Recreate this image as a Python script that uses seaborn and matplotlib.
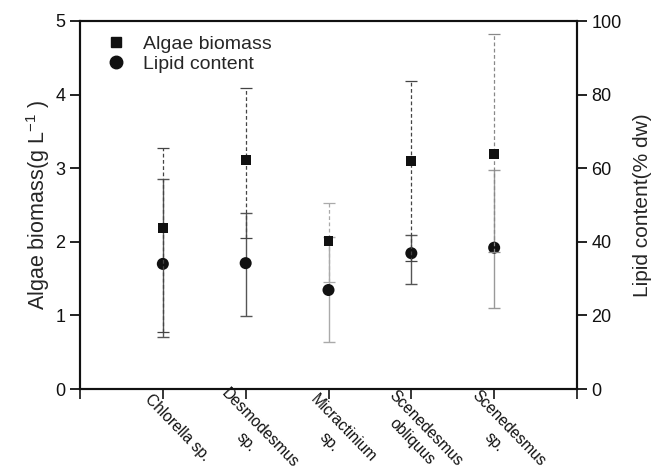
import matplotlib
matplotlib.use("Agg")
import matplotlib.pyplot as plt
import matplotlib.lines as mlines
import matplotlib.transforms as mtransforms
import seaborn as sns
import numpy as np
import pandas as pd

# Valores
species = ["Chlorella sp.", "Desmodesmus\nsp.", "Micractinium\nsp.",
           "Scenedesmus\nobliquus", "Scenedesmus\nsp."]
biomass = [2.19, 3.11, 2.01, 3.10, 3.19]
biomass_hi = [3.27, 4.09, 2.53, 4.19, 4.83]
biomass_lo = [0.77, 2.05, 1.45, 1.74, 1.86]
lipid = [34.0, 34.2, 26.9, 36.9, 38.4]
lipid_hi = [57.2, 47.8, 41.3, 41.8, 59.6]
lipid_lo = [14.0, 19.8, 12.8, 28.4, 22.1]

sns.set_theme(style="ticks")
plt.rcParams["font.family"] = ["Liberation Sans", "DejaVu Sans"]
plt.rcParams["mathtext.default"] = "regular"

pos = np.arange(1, len(species) + 1)
df = pd.DataFrame({"pos": pos, "biomass": biomass, "lipid": lipid})

fig = plt.figure(figsize=(6.59, 4.72), dpi=100)
ax = fig.add_axes([80 / 659, 1 - 389 / 472, 497 / 659, 368 / 472])
ax2 = ax.twinx()
ax.set_zorder(ax2.get_zorder() + 1)
ax.patch.set_visible(False)

# barras de erro
bar_col_b = ["#444444", "#444444", "#aaaaaa", "#444444", "#888888"]
bar_col_l = ["#555555", "#555555", "#aaaaaa", "#555555", "#999999"]
for i in range(len(pos)):
    eb = ax.errorbar(pos[i], biomass[i],
                     yerr=[[biomass[i] - biomass_lo[i]], [biomass_hi[i] - biomass[i]]],
                     fmt="none", ecolor=bar_col_b[i], elinewidth=0.9,
                     capsize=4, capthick=0.9)
    eb[2][0].set_linestyle((0, (3, 2)))
    ax2.errorbar(pos[i], lipid[i],
                 yerr=[[lipid[i] - lipid_lo[i]], [lipid_hi[i] - lipid[i]]],
                 fmt="none", ecolor=bar_col_l[i], elinewidth=1.0,
                 capsize=4, capthick=1.0)

sns.scatterplot(data=df, x="pos", y="biomass", marker="s", s=50, color="#111111",
                edgecolor="none", ax=ax, zorder=5, legend=False)
sns.scatterplot(data=df, x="pos", y="lipid", marker="o", s=75, color="#111111",
                edgecolor="none", ax=ax2, zorder=5, legend=False)

ax.set_xlim(0, 6)
ax.set_ylim(0, 5)
ax2.set_ylim(0, 100)
ax.set_yticks([0, 1, 2, 3, 4, 5])
ax2.set_yticks([0, 20, 40, 60, 80, 100])
ax.set_xticks(range(0, 7))
ax.set_xticklabels([])

# rótulos inclinados, centrados numa linha que sai de cada tick
shift = mtransforms.ScaledTranslation(0.20, -0.34, fig.dpi_scale_trans)
for p, name in zip(pos, species):
    ax.text(p, 0, name, transform=ax.get_xaxis_transform() + shift,
            rotation=-46, rotation_mode="anchor", ha="center", va="top",
            multialignment="center", linespacing=1.4, fontsize=11.2,
            color="#111111", clip_on=False)

ax.set_xlabel("")
ax.set_ylabel(r"Algae biomass(g L$^{-1}$ )", fontsize=15.5, labelpad=2.5)
ax2.set_ylabel("Lipid content(% dw)", fontsize=15, labelpad=8)

for a in (ax, ax2):
    for s in a.spines.values():
        s.set_linewidth(1.5)
        s.set_color("#111111")
    a.tick_params(axis="y", labelsize=13, width=1.3, length=7, direction="out",
                  colors="#111111")
ax.tick_params(axis="x", width=1.3, length=7, direction="out", pad=4)

leg_handles = [
    mlines.Line2D([], [], marker="s", linestyle="none", color="#111111", markersize=7),
    mlines.Line2D([], [], marker="o", linestyle="none", color="#111111", markersize=9),
]
ax.legend(leg_handles, ["Algae biomass", "Lipid content"], loc="upper left",
          bbox_to_anchor=(0.014, 1.008), frameon=False, fontsize=14,
          handletextpad=0.8, labelspacing=0.1, handlelength=1.2)

fig.savefig("out.png", dpi=100)
